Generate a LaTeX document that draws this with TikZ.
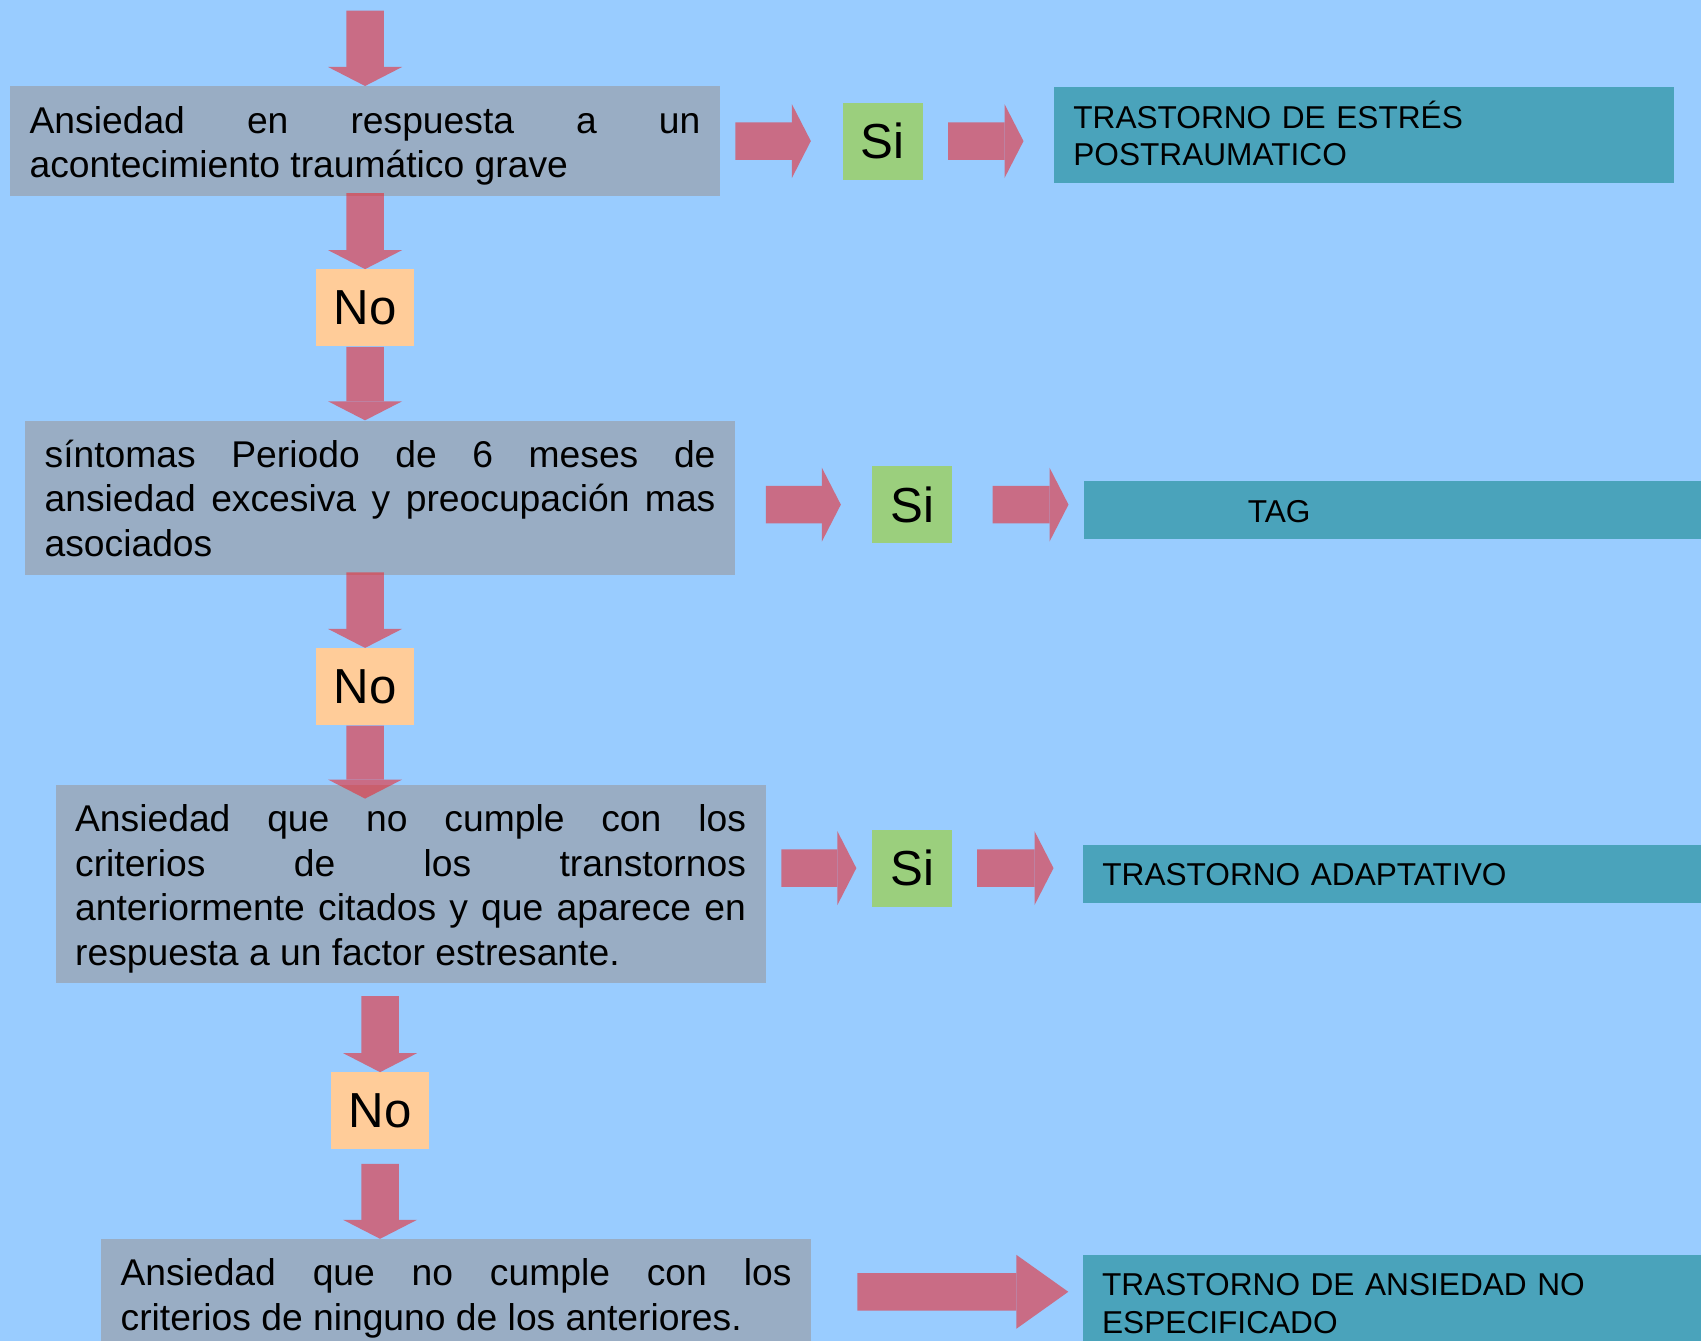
\documentclass[tikz,border=0pt]{standalone}
\usepackage{fontspec}
\setmainfont{Liberation Sans}
\usetikzlibrary{arrows.meta, positioning}
\definecolor{SkyBlue}{RGB}{153,204,255}
\definecolor{BoxGray}{RGB}{153,173,196}
\definecolor{DiagTeal}{RGB}{74,163,187}
\definecolor{YesGreen}{RGB}{155,207,125}
\definecolor{NoOrange}{RGB}{255,204,153}
\definecolor{ArrowRed}{RGB}{233,44,52}
\tikzset{
  question/.style={rectangle, fill=BoxGray, text width=13.42cm, inner xsep=0.39cm,
    inner ysep=0pt, align=justify, font=\fontsize{21.2}{25.3}\selectfont,
    execute at begin node={\rule{0pt}{26.6pt}},
    execute at end node={\rule[-10.4pt]{0pt}{10.4pt}}},
  diag/.style={rectangle, fill=DiagTeal, text width=11.64cm, inner xsep=0.38cm,
    inner ysep=0pt, align=left, font=\fontsize{18}{21.6}\selectfont,
    execute at begin node={\rule{0pt}{23.3pt}},
    execute at end node={\rule[-9.7pt]{0pt}{9.7pt}}},
  yesbox/.style={rectangle, fill=YesGreen, minimum width=1.6cm, minimum height=1.54cm,
    inner sep=0pt, font=\fontsize{28}{30}\selectfont},
  nobox/.style={rectangle, fill=NoOrange, minimum width=1.96cm, minimum height=1.54cm,
    inner sep=0pt, font=\fontsize{28}{30}\selectfont},
  arrow/.style={line width=0.75cm, draw=ArrowRed,
    -{Triangle[width=1.48cm, length=0.38cm, line width=0pt]}},
  bigarrow/.style={arrow, -{Triangle[width=1.48cm, length=1.04cm, line width=0pt]}}
}

\begin{document}
\begin{tikzpicture}[x=0.02cm, y=-0.02cm]
  \useasboundingbox (0,0) rectangle (1701,1341);
  \clip (0,0) rectangle (1701,1341);
  \fill[SkyBlue] (0,0) rectangle (1701,1341);

  \node[question, anchor=north west] (trauma) at (9.8,86)
    {Ansiedad en respuesta a un\linebreak acontecimiento traumático grave};
  \node[nobox, below=1.46cm of trauma] (no1) {No};
  \node[question, below=1.47cm of no1, xshift=0.3cm] (periodo)
    {síntomas Periodo de 6 meses de\linebreak ansiedad excesiva y preocupación mas\linebreak asociados};
  \node[nobox, below=1.46cm of periodo, xshift=-0.3cm] (no2) {No};
  \node[question, below=1.18cm of no2, xshift=0.91cm] (estres)
    {Ansiedad que no cumple con los\linebreak criterios de los transtornos\linebreak anteriormente citados y que aparece en\linebreak respuesta a un factor estresante.};
  \node[nobox, below=1.77cm of estres, xshift=-0.61cm] (no3) {No};
  \node[question, below=1.78cm of no3, xshift=1.52cm] (ninguno)
    {Ansiedad que no cumple con los\linebreak criterios de ninguno de los anteriores.};

  \node[yesbox, right=2.44cm of trauma] (si1) {Si};
  \node[diag, right=2.62cm of si1, yshift=0.12cm] (tept)
    {TRASTORNO DE ESTRÉS\\POSTRAUMATICO};
  \node[yesbox, right=2.73cm of periodo, yshift=-0.14cm] (si2) {Si};
  \node[diag, right=2.62cm of si2, yshift=-0.11cm] (tag) {\hspace*{2.9cm}TAG};
  \node[yesbox, right=2.12cm of estres, yshift=0.32cm] (si3) {Si};
  \node[diag, right=2.61cm of si3, yshift=-0.11cm] (adapt) {TRASTORNO ADAPTATIVO};
  \node[diag, right=5.43cm of ninguno.north east, anchor=north west, yshift=-0.31cm] (noesp)
    {TRASTORNO DE ANSIEDAD NO\\ESPECIFICADO};

  \coordinate (entry) at ([yshift=1.51cm]trauma.north);

  \begin{scope}[transparency group, opacity=0.6]
    \draw[arrow] (entry) -- (trauma.north);
    \draw[arrow, shorten <=-0.06cm] (trauma.south) -- (no1.north);
    \draw[arrow] (no1.south) -- (no1.south |- periodo.north);
    \draw[arrow, shorten <=-0.05cm] (periodo.south -| no2) -- (no2.north);
    \draw[arrow, shorten >=-0.28cm] (no2.south) -- (no2.south |- estres.north);
    \draw[arrow, shorten <=0.25cm] (estres.south -| no3) -- (no3.north);
    \draw[arrow, shorten <=0.28cm] (no3.south) -- (no3.south |- ninguno.north);

    \draw[arrow, shorten <=0.3cm, shorten >=0.63cm] (trauma.east |- si1) -- (si1.west);
    \draw[arrow, shorten <=0.5cm, shorten >=0.61cm] (si1.east) -- (si1.east -| tept.west);
    \draw[arrow, shorten <=0.61cm, shorten >=0.62cm] (periodo.east |- si2) -- (si2.west);
    \draw[arrow, shorten <=0.8cm, shorten >=0.3cm] (si2.east) -- (si2.east -| tag.west);
    \draw[arrow, shorten <=0.31cm, shorten >=0.31cm] (estres.east |- si3) -- (si3.west);
    \draw[arrow, shorten <=0.49cm, shorten >=0.59cm] (si3.east) -- (si3.east -| adapt.west);
    \draw[bigarrow, shorten <=0.92cm, shorten >=0.29cm]
      ([yshift=-1.06cm]ninguno.north east) -- ([yshift=-1.06cm]ninguno.north east -| noesp.west);
  \end{scope}
\end{tikzpicture}
\end{document}
